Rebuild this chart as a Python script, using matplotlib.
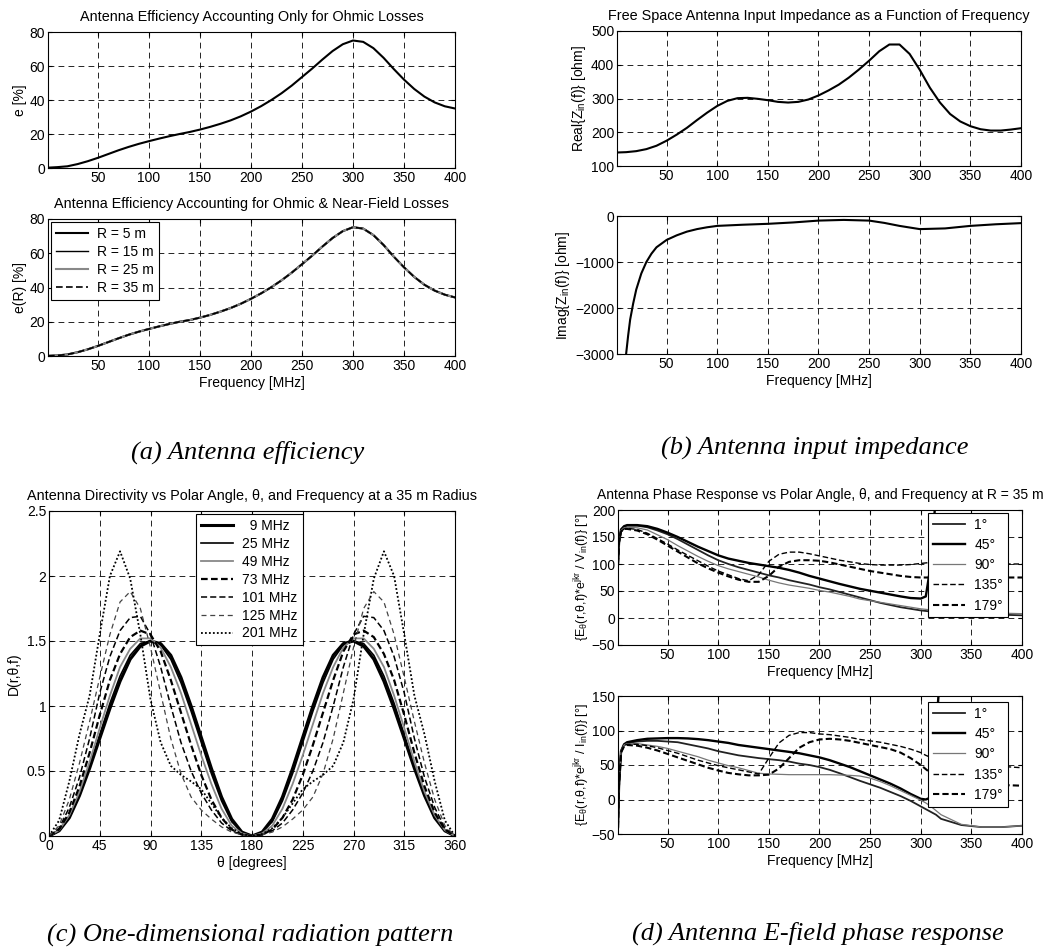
import numpy as np
import matplotlib
matplotlib.use('Agg')
import matplotlib.pyplot as plt
from matplotlib.ticker import FormatStrFormatter

plt.rcParams['font.family'] = ['Liberation Sans', 'DejaVu Sans']
plt.rcParams['mathtext.fontset'] = 'custom'
plt.rcParams['mathtext.rm'] = 'Liberation Sans'
plt.rcParams['mathtext.it'] = 'Liberation Sans:italic'
plt.rcParams['mathtext.default'] = 'regular'

# ---- (a) efficiency ----
f_eff = np.arange(0, 401, 10)
f_eff[0] = 1
e_ohmic = [0.2, 0.5, 1.0, 2.3, 4.0, 6.0, 8.2, 10.4, 12.4, 14.2, 15.8, 17.3, 18.7, 20.0,
           21.2, 22.6, 24.2, 26.0, 28.0, 30.4, 33.2, 36.4, 40.0, 44.0, 48.5, 53.5, 58.5,
           63.8, 68.8, 72.8, 75.0, 74.2, 70.5, 64.8, 58.2, 52.0, 46.5, 42.0, 38.6, 36.3, 35.0]
# the four radii overlap completely in the picture
e_near = [0.1, 0.3, 0.9, 2.2, 3.9, 5.9, 8.1, 10.3, 12.4, 14.2, 15.8, 17.3, 18.7, 20.0,
          21.0, 22.4, 24.0, 25.9, 28.0, 30.5, 33.4, 36.6, 40.2, 44.2, 48.7, 53.6, 58.6,
          63.9, 68.9, 72.9, 75.2, 74.4, 70.6, 64.8, 58.0, 51.8, 46.2, 41.6, 38.2, 35.8, 34.2]
radii = ['R = 5 m', 'R = 15 m', 'R = 25 m', 'R = 35 m']

# ---- (b) input impedance ----
f_zre = np.arange(0, 401, 10)
f_zre[0] = 1
z_real = [140, 141, 144, 150, 160, 175, 193, 213, 236, 258, 278, 293, 301, 302, 299, 295,
          290, 288, 290, 297, 309, 324, 341, 362, 386, 412, 440, 460, 460, 432, 385, 332,
          288, 254, 232, 218, 209, 205, 205, 208, 212]
f_zim = [9, 10, 12, 14, 17, 20, 25, 30, 35, 40, 50, 60, 70, 80, 90, 100, 125, 150, 175,
         200, 225, 250, 265, 280, 300, 325, 350, 375, 400]
z_imag = [-3600, -3000, -2600, -2250, -1900, -1600, -1250, -1000, -820, -680, -520, -420,
          -340, -285, -245, -215, -190, -170, -140, -100, -85, -100, -150, -215, -285,
          -270, -215, -180, -155]

# ---- (c) directivity ----
theta = np.arange(0, 361, 9)
dir_labels = ['  9 MHz', '25 MHz', '49 MHz', '73 MHz', '101 MHz', '125 MHz', '201 MHz']
d_9 = [0, .04, .14, .31, .52, .75, .98, 1.19, 1.36, 1.46, 1.50, 1.48, 1.39, 1.22, 1.00, .76, .52, .30, .13, .03, 0,
       .03, .13, .30, .52, .76, 1.00, 1.22, 1.39, 1.48, 1.50, 1.46, 1.36, 1.19, .98, .75, .52, .31, .14, .04, 0]
d_25 = [0, .04, .15, .32, .54, .78, 1.02, 1.23, 1.39, 1.48, 1.50, 1.47, 1.36, 1.18, .96, .72, .48, .27, .11, .03, 0,
        .03, .11, .27, .48, .72, .96, 1.18, 1.36, 1.47, 1.50, 1.48, 1.39, 1.23, 1.02, .78, .54, .32, .15, .04, 0]
d_49 = [0, .045, .16, .34, .57, .83, 1.08, 1.30, 1.44, 1.52, 1.52, 1.45, 1.30, 1.10, .86, .62, .40, .21, .08, .02, 0,
        .02, .08, .21, .40, .62, .86, 1.10, 1.30, 1.45, 1.52, 1.52, 1.44, 1.30, 1.08, .83, .57, .34, .16, .045, 0]
d_73 = [0, .05, .18, .38, .64, .93, 1.20, 1.40, 1.53, 1.58, 1.55, 1.42, 1.20, .95, .70, .47, .28, .14, .05, .01, 0,
        .01, .05, .14, .28, .47, .70, .95, 1.20, 1.42, 1.55, 1.58, 1.53, 1.40, 1.20, .93, .64, .38, .18, .05, 0]
d_101 = [0, .06, .22, .45, .75, 1.10, 1.38, 1.58, 1.68, 1.69, 1.55, 1.30, 1.00, .72, .50, .33, .20, .10, .04, .01, 0,
         .01, .04, .10, .20, .33, .50, .72, 1.00, 1.30, 1.55, 1.69, 1.68, 1.58, 1.38, 1.10, .75, .45, .22, .06, 0]
d_125 = [0, .08, .28, .56, .88, 1.22, 1.55, 1.80, 1.88, 1.75, 1.45, 1.10, .75, .48, .30, .20, .13, .07, .03, .01, 0,
         .01, .03, .07, .13, .20, .30, .48, .75, 1.10, 1.45, 1.75, 1.88, 1.80, 1.55, 1.22, .88, .56, .28, .08, 0]
d_201 = [0, .12, .42, .78, 1.08, 1.55, 2.00, 2.19, 1.98, 1.55, 1.05, .72, .54, .47, .42, .36, .25, .14, .06, .015, 0,
         .015, .06, .14, .25, .36, .42, .47, .54, .72, 1.05, 1.55, 1.98, 2.19, 2.00, 1.55, 1.08, .78, .42, .12, 0]

# ---- (d) phase response ----
f_ph = [1, 2, 4, 7, 10, 20, 30, 40, 50, 60, 70, 80, 90, 100, 110, 120, 130, 140, 150, 160,
        170, 180, 190, 200, 210, 220, 230, 240, 250, 260, 270, 280, 290, 300, 305, 310, 315,
        320, 340, 360, 380, 400]
ang_labels = ['1°', '45°', '90°', '135°', '179°']
pv_1 = [100, 140, 163, 169, 171, 171, 168, 162, 155, 146, 136, 126, 116, 107, 100, 94, 89, 84,
        79, 75, 70, 66, 62, 57, 53, 48, 43, 38, 33, 28, 24, 20, 17, 14, 13, 12, 11, 11, 9, 7, 6, 5]
pv_45 = [100, 140, 164, 170, 172, 172, 170, 165, 158, 150, 141, 132, 124, 116, 110, 106, 102, 99,
         96, 93, 89, 84, 78, 73, 68, 63, 58.5, 54, 50.5, 47, 43.5, 40, 37, 36, 40, 100, 230, 260,
         260, 260, 260, 260]
pv_90 = [100, 140, 162, 167, 168, 167, 163, 154, 145, 134, 124, 114, 105, 97, 91, 86, 81, 76,
         70, 65, 61, 58, 55, 51, 48, 44, 40, 35, 32, 29, 26, 23, 20, 17, 16, 15, 14, 14, 12, 10, 9, 8]
pv_135 = [100, 140, 160, 165, 166, 164, 157, 147, 137, 126, 116, 106, 96, 87, 80, 73, 69, 80,
          105, 118, 122, 122, 119, 115, 111, 107, 104, 101, 99, 98, 98, 98, 99, 101, 102, 103,
          103, 103, 102, 101, 100, 100]
pv_179 = [100, 140, 160, 165, 165, 162, 155, 145, 134, 123, 112, 101, 92, 84, 77, 71, 67, 67,
          78, 95, 104, 107, 107, 106, 103, 99, 95, 91, 87, 84, 81, 78, 76, 75, 75, 75, 75, 75,
          75, 75, 75, 75]
pi_1 = [-40, 20, 70, 79, 82, 84, 85, 85, 84, 83, 80, 77, 74, 70, 67, 64, 62, 60, 58.5, 57, 55,
        52, 50, 47, 43, 38, 32.5, 27, 22, 17, 11, 5, -2, -10, -14, -18, -22, -28, -37, -40, -40, -38]
pi_45 = [-40, 20, 70, 80, 83, 86, 88, 88.5, 89, 89, 88.5, 87.5, 86, 84, 82, 79, 77, 75, 73, 71,
         69, 67, 64, 61, 57, 52, 47, 41, 35, 29, 23, 16, 8, 1, 0, 3, 100, 200, 200, 200, 200, 200]
pi_90 = [-40, 20, 70, 79, 81, 81, 79, 77, 74, 70, 66, 62, 57, 53, 49, 46, 42, 38, 37, 36.5, 36,
         36, 36, 36, 36, 35.5, 35, 34, 31, 26, 20, 13, 6, -1, -5, -10, -16, -22, -36, -40, -40, -38]
pi_135 = [-40, 20, 68, 78, 80, 80, 78, 75, 71, 67, 62, 57, 53, 49, 46, 43, 40, 37, 60, 82, 93,
          97, 97, 95, 94, 92, 90, 87, 85, 83, 80, 77, 73, 68, 64, 61, 58, 55, 52, 50, 48, 46]
pi_179 = [-40, 20, 68, 77, 79, 78, 75, 71, 66, 61, 56, 51, 46, 42, 38.5, 36.5, 35, 35, 36, 45,
          60, 75, 83, 87, 88, 87, 85, 82, 79, 76, 73, 68, 60, 50, 44, 38, 33, 30, 26, 23, 21, 20]

W, H = 1063, 951
fig = plt.figure(figsize=(W / 100, H / 100), dpi=100)


def box(x0, y0, x1, y1):
    return [x0 / W, 1 - y1 / H, (x1 - x0) / W, (y1 - y0) / H]


def style(ax):
    ax.grid(True, linestyle=(0, (7, 5)), color='k', lw=0.6)
    ax.tick_params(direction='in', length=3, labelsize=10, top=True, right=True, pad=2)
    for s in ax.spines.values():
        s.set_linewidth(0.8)


def legend(ax, spacing=0.3, **kw):
    lg = ax.legend(fontsize=10, handlelength=2.3, labelspacing=spacing, borderpad=0.35,
                   handletextpad=0.7, fancybox=False, framealpha=1, edgecolor='k', **kw)
    lg.get_frame().set_linewidth(0.8)
    return lg


freq_ticks = [50, 100, 150, 200, 250, 300, 350, 400]
tfs = 10.4
lfs = 10
tpad = 8

# (a) top
ax = fig.add_axes(box(48, 32, 455, 168))
ax.plot(f_eff, e_ohmic, color='k', lw=1.5)
ax.set_xlim(1, 400)
ax.set_ylim(0, 80)
ax.set_xticks(freq_ticks)
ax.set_yticks([0, 20, 40, 60, 80])
ax.set_ylabel('e [%]', fontsize=lfs, labelpad=2)
ax.set_title('Antenna Efficiency Accounting Only for Ohmic Losses', fontsize=tfs, pad=tpad)
style(ax)

# (a) bottom
ax = fig.add_axes(box(48, 219, 455, 356))
ax.plot(f_eff, e_near, color='k', lw=1.5, label=radii[0])
ax.plot(f_eff, e_near, color='k', lw=1.0, label=radii[1])
ax.plot(f_eff, e_near, color='#888888', lw=1.5, label=radii[2])
ax.plot(f_eff, e_near, color='k', lw=1.2, ls=(0, (4, 2)), label=radii[3])
ax.set_xlim(1, 400)
ax.set_ylim(0, 80)
ax.set_xticks(freq_ticks)
ax.set_yticks([0, 20, 40, 60, 80])
ax.set_ylabel('e(R) [%]', fontsize=lfs, labelpad=2)
ax.set_xlabel('Frequency [MHz]', fontsize=lfs, labelpad=2)
ax.set_title('Antenna Efficiency Accounting for Ohmic & Near-Field Losses', fontsize=tfs, pad=tpad)
style(ax)
legend(ax, loc='upper left', borderaxespad=0.2)

# (b) top
ax = fig.add_axes(box(617, 31, 1021, 166))
ax.plot(f_zre, z_real, color='k', lw=1.5)
ax.set_xlim(1, 400)
ax.set_ylim(100, 500)
ax.set_xticks(freq_ticks)
ax.set_yticks([100, 200, 300, 400, 500])
ax.set_ylabel('Real{Z$_{in}$(f)} [ohm]', fontsize=lfs, labelpad=2)
ax.set_title('Free Space Antenna Input Impedance as a Function of Frequency', fontsize=tfs, pad=tpad)
style(ax)

# (b) bottom
ax = fig.add_axes(box(617, 216, 1021, 354))
ax.plot(f_zim, z_imag, color='k', lw=1.5)
ax.set_xlim(1, 400)
ax.set_ylim(-3000, 0)
ax.set_xticks(freq_ticks)
ax.set_yticks([-3000, -2000, -1000, 0])
ax.set_ylabel('Imag{Z$_{in}$(f)} [ohm]', fontsize=lfs, labelpad=2)
ax.set_xlabel('Frequency [MHz]', fontsize=lfs, labelpad=2)
style(ax)

# (c)
ax = fig.add_axes(box(49, 511, 455, 836))
dir_series = [d_9, d_25, d_49, d_73, d_101, d_125, d_201]
dir_styles = [dict(color='k', lw=2.2, ls='-'),
              dict(color='k', lw=1.2, ls='-'),
              dict(color='#888888', lw=1.3, ls='-'),
              dict(color='k', lw=1.6, ls=(0, (3, 1.5))),
              dict(color='k', lw=1.1, ls=(0, (4, 2))),
              dict(color='#444444', lw=0.9, ls=(0, (4, 3))),
              dict(color='k', lw=1.3, ls=(0, (1, 1.2)))]
for d, st, lb in zip(dir_series, dir_styles, dir_labels):
    ax.plot(theta, d, label=lb, **st)
ax.set_xlim(0, 360)
ax.set_ylim(0, 2.5)
ax.set_xticks(np.arange(0, 361, 45))
ax.set_yticks([0, 0.5, 1, 1.5, 2, 2.5])
ax.yaxis.set_major_formatter(FormatStrFormatter('%g'))
ax.set_ylabel('D(r,θ,f)', fontsize=lfs, labelpad=4)
ax.set_xlabel('θ [degrees]', fontsize=lfs, labelpad=2)
ax.set_title('Antenna Directivity vs Polar Angle, θ, and Frequency at a 35 m Radius',
             fontsize=tfs, pad=tpad)
style(ax)
legend(ax, spacing=0.28, loc='upper left', bbox_to_anchor=(0.362, 0.99), borderaxespad=0)

# (d) styles
ang_styles = [dict(color='#222222', lw=1.3, ls='-'),
              dict(color='k', lw=1.7, ls='-'),
              dict(color='#777777', lw=0.9, ls='-'),
              dict(color='k', lw=1.0, ls=(0, (4, 2))),
              dict(color='k', lw=1.5, ls=(0, (3, 1.5)))]

# (d) top
ax = fig.add_axes(box(618, 510, 1022, 645))
for p, st, lb in zip([pv_1, pv_45, pv_90, pv_135, pv_179], ang_styles, ang_labels):
    ax.plot(f_ph, p, label=lb, **st)
ax.set_xlim(1, 400)
ax.set_ylim(-50, 200)
ax.set_xticks(freq_ticks)
ax.set_yticks([-50, 0, 50, 100, 150, 200])
ax.set_ylabel('{E$_θ$(r,θ,f)*e$^{jkr}$ / V$_{in}$(f)} [°]', fontsize=9, labelpad=0)
ax.set_xlabel('Frequency [MHz]', fontsize=lfs, labelpad=2)
ax.set_title('Antenna Phase Response vs Polar Angle, θ, and Frequency at R = 35 m',
             fontsize=10, pad=tpad)
style(ax)
legend(ax, spacing=0.45, loc='upper left', bbox_to_anchor=(0.767, 0.98), borderaxespad=0)

# (d) bottom
ax = fig.add_axes(box(618, 696, 1022, 834))
for p, st, lb in zip([pi_1, pi_45, pi_90, pi_135, pi_179], ang_styles, ang_labels):
    ax.plot(f_ph, p, label=lb, **st)
ax.set_xlim(1, 400)
ax.set_ylim(-50, 150)
ax.set_xticks(freq_ticks)
ax.set_yticks([-50, 0, 50, 100, 150])
ax.set_ylabel('{E$_θ$(r,θ,f)*e$^{jkr}$ / I$_{in}$(f)} [°]', fontsize=9, labelpad=0)
ax.set_xlabel('Frequency [MHz]', fontsize=lfs, labelpad=2)
style(ax)
legend(ax, spacing=0.45, loc='upper left', bbox_to_anchor=(0.767, 0.957), borderaxespad=0)

# captions
cap = dict(family='Liberation Serif', style='italic', fontsize=19, ha='center', va='center')
fig.text(248 / W, 1 - 452 / H, '(a) Antenna efficiency', **cap)
fig.text(815 / W, 1 - 448 / H, '(b) Antenna input impedance', **cap)
fig.text(250 / W, 1 - 935 / H, '(c) One-dimensional radiation pattern', **cap)
fig.text(818 / W, 1 - 933 / H, '(d) Antenna E-field phase response', **cap)

fig.savefig('out.png', dpi=100)
